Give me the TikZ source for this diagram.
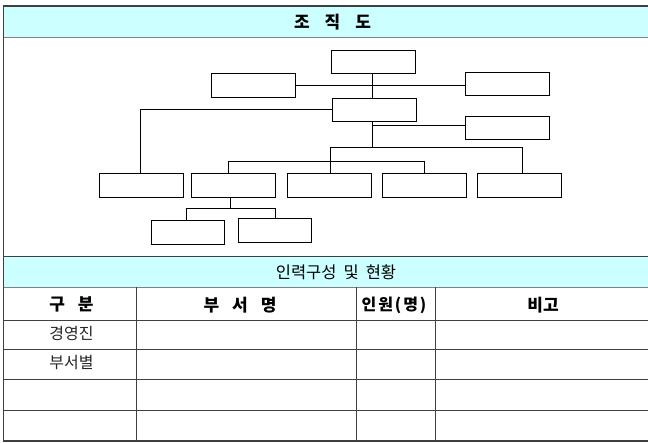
\documentclass[tikz,border=0pt]{standalone}
\usepackage{fontspec}
\setmainfont{Noto Sans CJK KR}
\newfontfamily\widefont{Noto Sans CJK KR}[LetterSpace=12]

\definecolor{bandcyan}{HTML}{CCFFFF}
\definecolor{framegray}{HTML}{404040}

\def\boxwidth{84pt}
\def\boxheight{23pt}
\def\rightend{665}
\newcommand\spacedby[1]{\spaceskip #1\relax}

\begin{document}
\begin{tikzpicture}[x=1pt, y=-1pt,
  unit/.style={draw=black, line width=1.8pt, fill=white, minimum width=\boxwidth, minimum height=\boxheight, inner sep=0pt},
  tallunit/.style={unit, minimum height=24pt},
  subunit/.style={unit, minimum width=73pt, minimum height=24pt},
  link/.style={black, line width=1pt},
  rule/.style={framegray, line width=0.8pt},
  band/.style={fill=bandcyan},
  headtext/.style={font=\bfseries\fontsize{17}{17}\selectfont\spacedby{13pt}},
  celltext/.style={font=\fontsize{16}{16}\selectfont, text=black!85}]
  \useasboundingbox (0,0) rectangle (648,443);
  \clip (0,0) rectangle (648,443);

  % bands
  \fill [band] (3.5,6) rectangle (\rightend,37.5);
  \fill [band] (3.5,256) rectangle (\rightend,287.5);
  \draw [rule, gray] (3.5,37.5) -- (\rightend,37.5);
  \draw [rule] (3.5,256) -- (\rightend,256);
  \draw [rule, gray] (3.5,287.5) -- (\rightend,287.5);

  % table
  \foreach \y in {320.5, 349, 379.5, 410.5}
    \draw [rule] (3.5,\y) -- (\rightend,\y);
  \foreach \x in {136.5, 356.5, 435}
    \draw [rule] (\x,287.5) -- (\x,441);
  \draw [framegray, line width=1.5pt] (3.5,6) rectangle (\rightend,441);

  \node [font=\bfseries\fontsize{17}{17}\selectfont\spacedby{15pt}] (title) at (332.5,22.5) {조 직 도};
  \node [font=\fontsize{16.5}{16.5}\selectfont\spacedby{7pt}] (staff) at (336,272) {인력구성 및 현황};

  \node [headtext] (colkind) at (71.5,304) {구 분};
  \node [headtext] (coldept) at (240,305) {부 서 명};
  \node [headtext, font=\widefont\bfseries\fontsize{16}{16}\selectfont] (colcount) at (394,305) {인원(명)};
  \node [headtext] (colnote) at (543,305) {비고};
  \node [celltext] (rowexec) at (71.5,333.5) {경영진};
  \node [celltext] (rowdept) at (71.5,363) {부서별};

  % organisation chart
  \node [unit] (ceo) at (373.5,62) {};
  \node [tallunit] (advL) at (253.5,85.5) {};
  \node [unit] (advR) at (507.5,84) {};
  \node [unit] (mid) at (374.5,110) {};
  \node [unit] (sideR) at (507.5,128) {};

  \node [tallunit] (dept1) at (141.5,185.5) {};
  \node [tallunit] (dept2) at (233.5,185.5) {};
  \node [tallunit] (dept3) at (329.5,185.5) {};
  \node [tallunit] (dept4) at (424.5,185.5) {};
  \node [tallunit] (dept5) at (519.5,185.5) {};

  \node [subunit] (team1) at (188,232.5) {};
  \node [subunit] (team2) at (275,230.5) {};

  \coordinate (trunk) at (372.5,147.5);
  \coordinate (bar) at (330.5,161.5);
  \coordinate (fork) at (230.5,208.5);

  \draw [link] (trunk |- ceo.south) -- (trunk |- mid.north);
  \draw [link] (advL.east) -- (advL.east -| advR.west);
  \draw [link] ([yshift=0.5]mid.west) -| ([xshift=-1]dept1.north);
  \draw [link] (trunk |- mid.south) -- (trunk);
  \draw [link] ([yshift=2.5]sideR.west) -- ([yshift=2.5]sideR.west -| trunk);
  \draw [link] (bar |- trunk) -- ([xshift=3]dept5.north |- trunk) -- ([xshift=3]dept5.north);
  \draw [link] (bar |- trunk) -- (bar |- dept3.north);
  \draw [link] ([xshift=-5]dept2.north) |- (bar) -| (dept4.north);
  \draw [link] (fork |- dept2.south) -- (fork);
  \draw [link] ([xshift=-1.5]team1.north) |- (fork) -| ([xshift=0.5]team2.north);

\end{tikzpicture}
\end{document}
